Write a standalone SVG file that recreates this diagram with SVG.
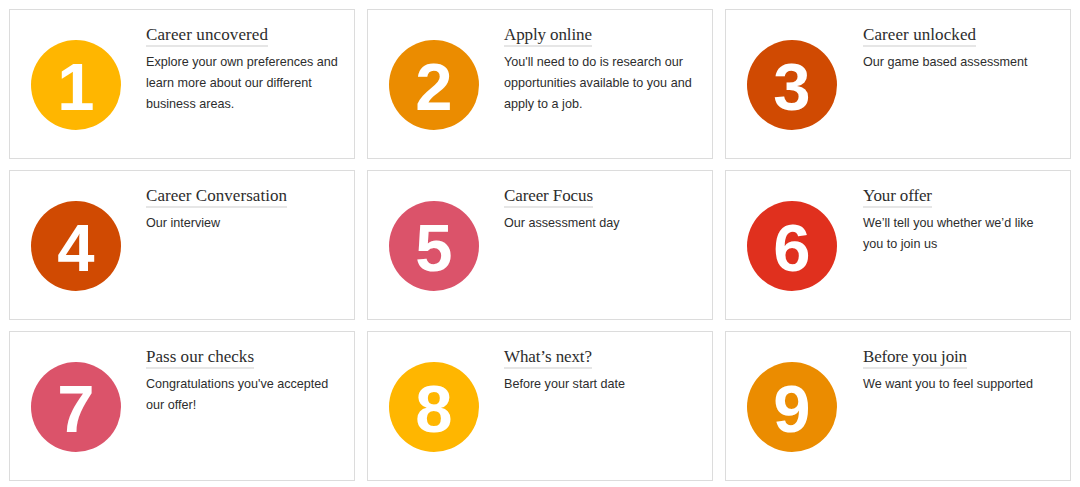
<svg xmlns="http://www.w3.org/2000/svg" width="1080" height="487" viewBox="0 0 1080 487">
<style>
.card{fill:#fff;stroke:#dcdcdc;stroke-width:1}
.num{font-family:"Liberation Sans",Arial,sans-serif;font-weight:bold;font-size:67px;fill:#fff;text-anchor:middle}
.title{font-family:"Liberation Serif","Times New Roman",serif;font-size:17px;fill:#2d2d2d}
.rule{stroke:#dedede;stroke-width:1.5}
.body{font-family:"Liberation Sans",Arial,sans-serif;font-size:12.6px;fill:#2d2d2d}
.c1{fill:#FFB600}.c2{fill:#EB8C00}.c3{fill:#D04A02}.c5{fill:#DB536A}.c6{fill:#E0301E}
</style>
<rect width="1080" height="487" fill="#fff"/>
<g id="connectors"></g>

<g id="step1">
<rect class="card" x="9.5" y="9.5" width="345" height="149"/>
<circle class="c1" cx="76" cy="85" r="45"/>
<text class="num" x="76" y="110">1</text>
<text class="title" x="146" y="40" textLength="122">Career uncovered</text>
<line class="rule" x1="146" y1="46" x2="268" y2="46"/>
<text class="body" x="146" y="66">Explore your own preferences and</text>
<text class="body" x="146" y="87">learn more about our different</text>
<text class="body" x="146" y="108">business areas.</text>
</g>

<g id="step2">
<rect class="card" x="367.5" y="9.5" width="345" height="149"/>
<circle class="c2" cx="434" cy="85" r="45"/>
<text class="num" x="434" y="110">2</text>
<text class="title" x="504" y="40" textLength="88">Apply online</text>
<line class="rule" x1="504" y1="46" x2="592" y2="46"/>
<text class="body" x="504" y="66">You'll need to do is research our</text>
<text class="body" x="504" y="87">opportunities available to you and</text>
<text class="body" x="504" y="108">apply to a job.</text>
</g>

<g id="step3">
<rect class="card" x="725.5" y="9.5" width="345" height="149"/>
<circle class="c3" cx="792" cy="85" r="45"/>
<text class="num" x="792" y="110">3</text>
<text class="title" x="863" y="40" textLength="113">Career unlocked</text>
<line class="rule" x1="863" y1="46" x2="976" y2="46"/>
<text class="body" x="863" y="66">Our game based assessment</text>
</g>

<g id="step4">
<rect class="card" x="9.5" y="170.5" width="345" height="149"/>
<circle class="c3" cx="76" cy="246" r="45"/>
<text class="num" x="76" y="271">4</text>
<text class="title" x="146" y="201" textLength="141">Career Conversation</text>
<line class="rule" x1="146" y1="207" x2="287" y2="207"/>
<text class="body" x="146" y="227">Our interview</text>
</g>

<g id="step5">
<rect class="card" x="367.5" y="170.5" width="345" height="149"/>
<circle class="c5" cx="434" cy="246" r="45"/>
<text class="num" x="434" y="271">5</text>
<text class="title" x="504" y="201" textLength="89">Career Focus</text>
<line class="rule" x1="504" y1="207" x2="593" y2="207"/>
<text class="body" x="504" y="227">Our assessment day</text>
</g>

<g id="step6">
<rect class="card" x="725.5" y="170.5" width="345" height="149"/>
<circle class="c6" cx="792" cy="246" r="45"/>
<text class="num" x="792" y="271">6</text>
<text class="title" x="863" y="201" textLength="69">Your offer</text>
<line class="rule" x1="863" y1="207" x2="932" y2="207"/>
<text class="body" x="863" y="227">We’ll tell you whether we’d like</text>
<text class="body" x="863" y="248">you to join us</text>
</g>

<g id="step7">
<rect class="card" x="9.5" y="331.5" width="345" height="149"/>
<circle class="c5" cx="76" cy="407" r="45"/>
<text class="num" x="76" y="432">7</text>
<text class="title" x="146" y="362" textLength="108">Pass our checks</text>
<line class="rule" x1="146" y1="368" x2="254" y2="368"/>
<text class="body" x="146" y="388">Congratulations you've accepted</text>
<text class="body" x="146" y="409">our offer!</text>
</g>

<g id="step8">
<rect class="card" x="367.5" y="331.5" width="345" height="149"/>
<circle class="c1" cx="434" cy="407" r="45"/>
<text class="num" x="434" y="432">8</text>
<text class="title" x="504" y="362" textLength="88">What’s next?</text>
<line class="rule" x1="504" y1="368" x2="592" y2="368"/>
<text class="body" x="504" y="388">Before your start date</text>
</g>

<g id="step9">
<rect class="card" x="725.5" y="331.5" width="345" height="149"/>
<circle class="c2" cx="792" cy="407" r="45"/>
<text class="num" x="792" y="432">9</text>
<text class="title" x="863" y="362" textLength="104">Before you join</text>
<line class="rule" x1="863" y1="368" x2="967" y2="368"/>
<text class="body" x="863" y="388">We want you to feel supported</text>
</g>
</svg>
